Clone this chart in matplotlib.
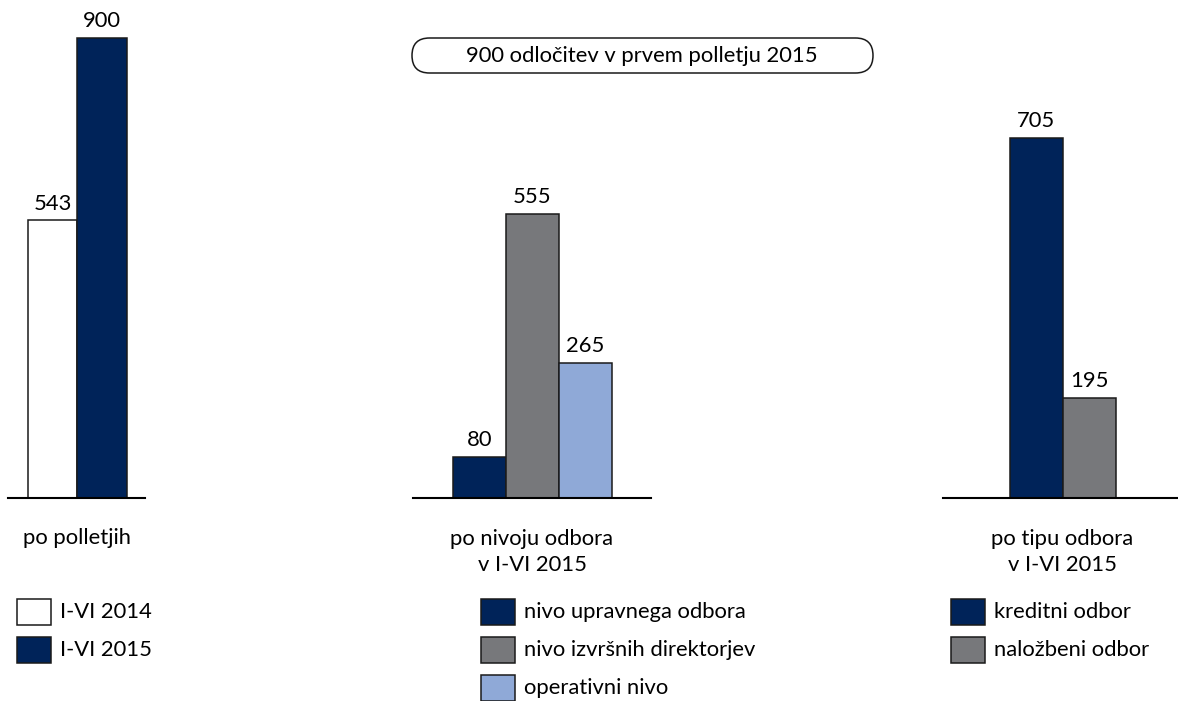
import matplotlib
matplotlib.use("Agg")
import matplotlib.pyplot as plt
from matplotlib.patches import Rectangle, FancyBboxPatch

plt.rcParams['font.family'] = ['Lato', 'DejaVu Sans']

W, H = 1178, 701

# data
period_labels = ["I-VI 2014", "I-VI 2015"]
period_values = [543, 900]

level_labels = ["nivo upravnega odbora", "nivo izvršnih direktorjev", "operativni nivo"]
level_values = [80, 555, 265]

type_labels = ["kreditni odbor", "naložbeni odbor"]
type_values = [705, 195]

title = "900 odločitev v prvem polletju 2015"
group_titles = ["po polletjih", "po nivoju odbora\nv I-VI 2015", "po tipu odbora\nv I-VI 2015"]

navy = "#002359"
grey = "#77787b"
light = "#8fa9d7"

period_colors = ["white", navy]
level_colors = [navy, grey, light]
type_colors = [navy, grey]

fig = plt.figure(figsize=(W / 100, H / 100), dpi=100)

base_y = 498          # baseline in px from top
px_per_unit = 460 / 900
ytop = base_y / px_per_unit
fs = 15.8


def panel(x0, x1, first_center, bar_w, values, colors):
    ax = fig.add_axes([x0 / W, (H - base_y) / H, (x1 - x0) / W, base_y / H])
    xs = list(range(len(values)))
    bars = ax.bar(xs, values, width=1.0, color=colors, edgecolor="#1a1a1a", linewidth=1.1)
    ax.set_xlim(-(first_center - x0) / bar_w, (x1 - first_center) / bar_w)
    ax.set_ylim(0, ytop)
    for s in ["top", "left", "right"]:
        ax.spines[s].set_visible(False)
    ax.spines["bottom"].set_linewidth(1.5)
    ax.set_xticks([])
    ax.set_yticks([])
    ax.patch.set_alpha(0)
    for b, v in zip(bars, values):
        ax.annotate(str(v), (b.get_x() + b.get_width() / 2, v), xytext=(0, 5),
                    textcoords="offset points", ha="center", va="bottom", fontsize=fs)
    return ax


panel(8, 145, 52.5, 49.5, period_values, period_colors)
panel(413, 651, 479.5, 53, level_values, level_colors)
panel(943, 1178, 1036.5, 53, type_values, type_colors)

# overlay in pixel coordinates for title, group labels and legends
ov = fig.add_axes([0, 0, 1, 1])
ov.set_xlim(0, W)
ov.set_ylim(H, 0)
ov.axis("off")

box = FancyBboxPatch((412, 38), 461, 35, boxstyle="round,pad=0,rounding_size=17.5",
                     facecolor="white", edgecolor="#1a1a1a", linewidth=1.1)
ov.add_patch(box)
ov.text(642, 56, title, ha="center", va="center", fontsize=fs)

ov.text(77, 538, group_titles[0], ha="center", va="center", fontsize=fs)
ov.text(532, 552, group_titles[1], ha="center", va="center", fontsize=fs, linespacing=1.4)
ov.text(1062, 552, group_titles[2], ha="center", va="center", fontsize=fs, linespacing=1.4)


def legend(x, labels, colors):
    for i, (lab, c) in enumerate(zip(labels, colors)):
        y = 599 + i * 38
        ov.add_patch(Rectangle((x, y), 34, 26, facecolor=c, edgecolor="#1a1a1a", linewidth=1.1))
        ov.text(x + 43, y + 13, lab, ha="left", va="center", fontsize=fs)


legend(17, period_labels, period_colors)
legend(481, level_labels, level_colors)
legend(951, type_labels, type_colors)

fig.savefig("out.png", dpi=100)
